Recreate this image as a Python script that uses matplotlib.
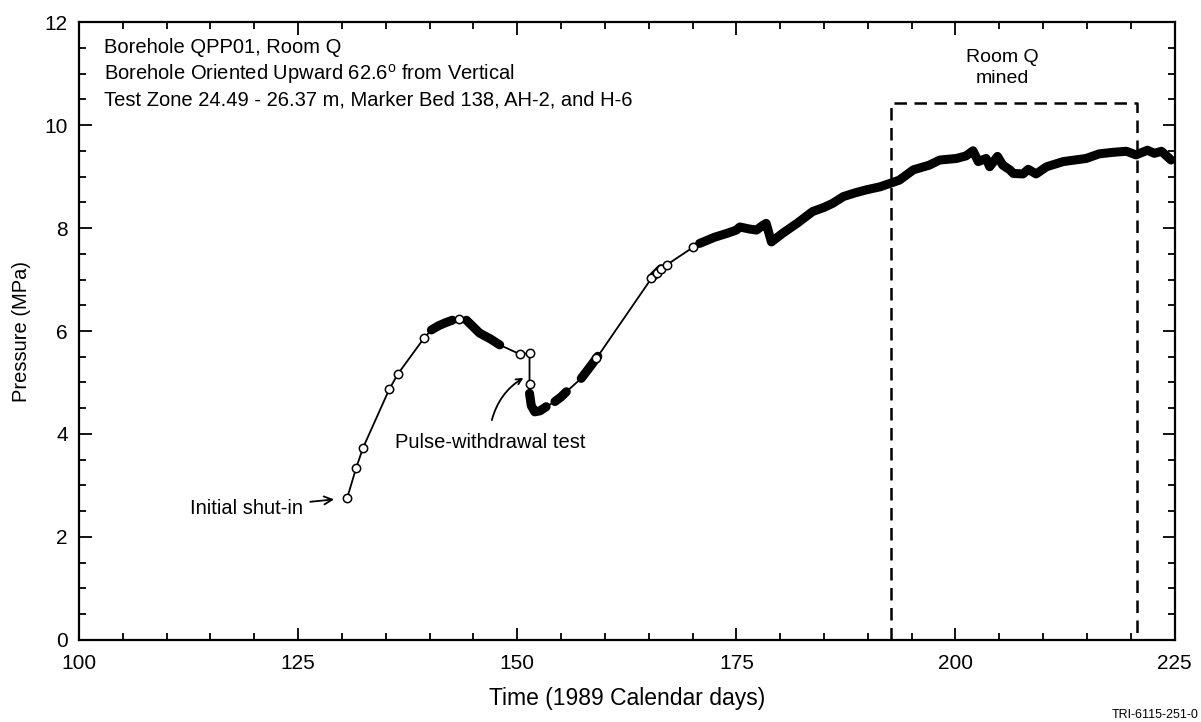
import matplotlib.pyplot as plt
import numpy as np

plt.rcParams['font.family'] = ['Liberation Sans', 'DejaVu Sans']

# sparse hand readings (open circles)
sparse_t = [130.6, 131.6, 132.4, 135.4, 136.4, 139.4, 143.4, 150.3, 151.4, 151.4,
            159.0, 165.3, 166.0, 166.4, 167.1, 170.1]
sparse_p = [2.76, 3.33, 3.73, 4.87, 5.17, 5.87, 6.24, 5.55, 5.57, 4.98,
            5.47, 7.02, 7.12, 7.21, 7.29, 7.63]

# dense records (drawn as heavy line)
seg1_t = [140.2, 141.0, 141.8, 142.6]
seg1_p = [6.02, 6.10, 6.16, 6.21]
seg2_t = [144.2, 145.7, 147.0, 148.0]
seg2_p = [6.21, 5.96, 5.84, 5.73]
seg3_t = [151.4, 151.6, 152.0, 152.6, 153.3]
seg3_p = [4.79, 4.55, 4.43, 4.45, 4.53]
seg4_t = [154.3, 155.0, 155.6]
seg4_p = [4.63, 4.72, 4.82]
seg5_t = [157.3, 158.2, 159.2]
seg5_p = [5.08, 5.28, 5.51]
seg6_t = [165.3, 166.4]
seg6_p = [7.02, 7.21]
seg7_t = [170.8, 172.5, 174.0, 175.0, 175.4, 176.5, 177.3, 178.0, 178.4, 179.0,
          180.3, 182.0, 183.7, 185.0, 186.0, 187.2, 188.5, 189.8, 191.4, 193.6,
          195.2, 197.0, 198.2, 200.1, 201.2, 202.0, 202.6, 203.5, 203.9, 204.8,
          205.4, 206.2, 206.6, 207.7, 208.3, 209.2, 210.4, 212.3, 214.9, 216.4,
          218.0, 219.5, 220.6, 221.9, 222.7, 223.5, 224.6]
seg7_p = [7.70, 7.82, 7.90, 7.96, 8.02, 7.98, 7.96, 8.05, 8.09, 7.73,
          7.90, 8.10, 8.32, 8.40, 8.48, 8.61, 8.68, 8.74, 8.80, 8.93,
          9.13, 9.22, 9.32, 9.35, 9.40, 9.50, 9.29, 9.35, 9.19, 9.39,
          9.22, 9.13, 9.06, 9.05, 9.14, 9.05, 9.19, 9.29, 9.35, 9.44,
          9.47, 9.49, 9.42, 9.51, 9.45, 9.49, 9.32]

segs = [(seg1_t, seg1_p), (seg2_t, seg2_p), (seg3_t, seg3_p), (seg4_t, seg4_p),
        (seg5_t, seg5_p), (seg6_t, seg6_p), (seg7_t, seg7_p)]

mined_t = [192.7, 220.7]
mined_top = 10.42

header = ["Borehole QPP01, Room Q",
          "Borehole Oriented Upward 62.6$^\\mathregular{o}$ from Vertical",
          "Test Zone 24.49 - 26.37 m, Marker Bed 138, AH-2, and H-6"]

fig = plt.figure(figsize=(12.01, 7.22), dpi=100)
ax = fig.add_axes([0.0658, 0.1136, 0.9122, 0.8559])

# whole record, thin connecting line
all_t = sparse_t + sum([s[0] for s in segs], [])
all_p = sparse_p + sum([s[1] for s in segs], [])
order = np.argsort(all_t, kind='stable')
ax.plot(np.array(all_t)[order], np.array(all_p)[order], 'k-', lw=1.3, zorder=3)
for t, p in segs:
    ax.plot(t, p, 'k-', lw=6.5, solid_capstyle='round', zorder=4)
ax.plot(sparse_t, sparse_p, 'o', ms=6, mfc='white', mec='k', mew=1.1, zorder=5)

# room Q mined box
ax.plot([mined_t[0], mined_t[0], mined_t[1], mined_t[1]],
        [0, mined_top, mined_top, 0], 'k--', lw=1.8, dashes=(5, 3), zorder=2)
ax.text(205.4, 11.32, "Room Q", ha='center', va='center', fontsize=14)
ax.text(205.4, 10.91, "mined", ha='center', va='center', fontsize=14)

for i, s in enumerate(header):
    ax.text(102.8, 11.50 - i * 0.505, s, ha='left', va='center', fontsize=14.5)

ax.annotate("Initial shut-in", xy=(129.1, 2.73), xytext=(125.6, 2.56),
            ha='right', va='center', fontsize=14.5,
            arrowprops=dict(arrowstyle='->', color='k', lw=1.3, shrinkA=3, shrinkB=0))
ax.annotate("", xy=(150.7, 5.09), xytext=(147.1, 4.27),
            arrowprops=dict(arrowstyle='->', color='k', lw=1.3,
                            connectionstyle='arc3,rad=-0.2', shrinkA=0, shrinkB=0))
ax.text(136.0, 3.84, "Pulse-withdrawal test", ha='left', va='center', fontsize=14.5)

ax.set_xlim(100, 225)
ax.set_ylim(0, 12)
ax.set_xticks(np.arange(100, 226, 25))
ax.set_xticks(np.arange(100, 226, 5), minor=True)
ax.set_yticks(np.arange(0, 13, 2))
ax.set_yticks(np.arange(0, 12.1, 0.5), minor=True)
ax.tick_params(which='both', direction='in', top=True, right=True, width=1.3,
               labelsize=15)
ax.tick_params(which='major', length=9)
ax.tick_params(which='minor', length=5)
ax.tick_params(axis='x', pad=10)
ax.tick_params(axis='y', pad=8)
for sp in ax.spines.values():
    sp.set_linewidth(1.6)

ax.set_xlabel("Time (1989 Calendar days)", fontsize=16.5, labelpad=10)
ax.set_ylabel("Pressure (MPa)", fontsize=14.5, labelpad=10)

fig.text(0.998, 0.002, "TRI-6115-251-0", fontsize=9, ha='right', va='bottom')

fig.savefig("out.png", dpi=100)
